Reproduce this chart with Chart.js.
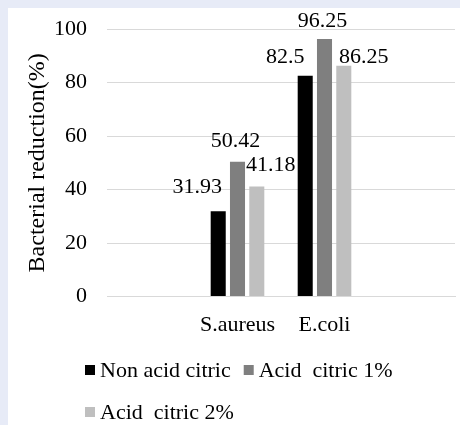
<!DOCTYPE html>
<html>
<head>
<meta charset="utf-8">
<script src="https://cdn.jsdelivr.net/npm/chart.js@4"></script>
<style>
  html, body { margin: 0; padding: 0; }
  body { background: #e7ebf7; width: 460px; height: 425px; position: relative; overflow: hidden; }
  .panel { position: absolute; left: 8px; top: 8px; width: 452px; height: 417px; background: #fff; }
</style>
</head>
<body>
<div class="panel"><canvas id="bacteriaChart" width="452" height="417"></canvas></div>
<script>
// categories (the outer two are empty slots, as in the original sheet)
const categories = ['', 'S.aureus', 'E.coli', ''];
const seriesNames = ['Non acid citric', 'Acid  citric 1%', 'Acid  citric 2%'];
const nonAcid = [null, 31.93, 82.5, null];
const acid1 = [null, 50.42, 96.25, null];
const acid2 = [null, 41.18, 86.25, null];
const yTicks = [0, 20, 40, 60, 80, 100];

const barColors = ['#000000', '#7f7f7f', '#bfbfbf'];
const fontFamily = "'Liberation Serif', 'DejaVu Serif', serif";

// label nudges (dx, dy from bar top), the original labels were moved by hand
const labelOffsets = [
  [null, [-21, -24], [-20, -19], null],
  [null, [-2, -20], [-2, -18], null],
  [null, [14, -21], [20, -9], null]
];

const valueLabels = {
  id: 'valueLabels',
  afterDatasetsDraw(chart) {
    const ctx = chart.ctx;
    ctx.save();
    ctx.font = '22px ' + fontFamily;
    ctx.fillStyle = '#000';
    ctx.textAlign = 'center';
    ctx.textBaseline = 'middle';
    chart.data.datasets.forEach(function(ds, i) {
      chart.getDatasetMeta(i).data.forEach(function(bar, j) {
        if (ds.data[j] == null) return;
        const off = labelOffsets[i][j];
        ctx.fillText(String(ds.data[j]), bar.x + off[0], bar.y + off[1]);
      });
    });
    ctx.restore();
  }
};

// legend drawn by hand so the spacing matches the Excel one
const sheetLegend = {
  id: 'sheetLegend',
  afterDraw(chart) {
    const ctx = chart.ctx;
    ctx.save();
    ctx.font = '22px ' + fontFamily;
    ctx.textBaseline = 'middle';
    ctx.fillStyle = '#000';
    const left = 77, box = 10, gap = 5, itemGap = 13;
    const rows = [chart.height - 55, chart.height - 13];
    let x = left, row = 0;
    chart.data.datasets.forEach(function(ds) {
      const w = box + gap + ctx.measureText(ds.label).width;
      if (x + w > chart.width - 5 && x > left) {
        row++;
        x = left;
      }
      const y = rows[row];
      ctx.fillStyle = ds.backgroundColor;
      ctx.fillRect(x, y - box / 2, box, box);
      ctx.fillStyle = '#000';
      ctx.fillText(ds.label, x + box + gap, y + 1);
      x += w + itemGap;
    });
    ctx.restore();
  }
};

const ctx = document.getElementById('bacteriaChart').getContext('2d');
new Chart(ctx, {
  type: 'bar',
  data: {
    labels: categories,
    datasets: [nonAcid, acid1, acid2].map(function(values, i) {
      return {
        label: seriesNames[i],
        data: values,
        backgroundColor: barColors[i],
        categoryPercentage: 0.665,
        barPercentage: 0.78
      };
    })
  },
  options: {
    responsive: false,
    animation: false,
    layout: { padding: { top: 21, right: 5, bottom: 72, left: 0 } },
    plugins: {
      legend: { display: false },
      tooltip: { enabled: false }
    },
    scales: {
      x: {
        grid: { display: false, drawTicks: false },
        border: { color: '#d9d9d9' },
        ticks: { color: '#000', padding: 15, font: { family: fontFamily, size: 22 } }
      },
      y: {
        min: 0,
        max: 100,
        afterBuildTicks(axis) { axis.ticks = yTicks.map(function(v) { return { value: v }; }); },
        afterFit(axis) {
          axis.width = 99;
          axis.paddingTop = 0;
          axis.paddingBottom = 0;
        },
        grid: { color: '#d9d9d9', drawTicks: false },
        border: { display: false },
        ticks: { color: '#000', padding: 20, font: { family: fontFamily, size: 22 } },
        title: {
          display: true,
          text: 'Bacterial reduction(%)',
          color: '#000',
          padding: { top: 15, bottom: 0 },
          font: { family: fontFamily, size: 24 }
        }
      }
    }
  },
  plugins: [valueLabels, sheetLegend]
});
</script>
</body>
</html>
